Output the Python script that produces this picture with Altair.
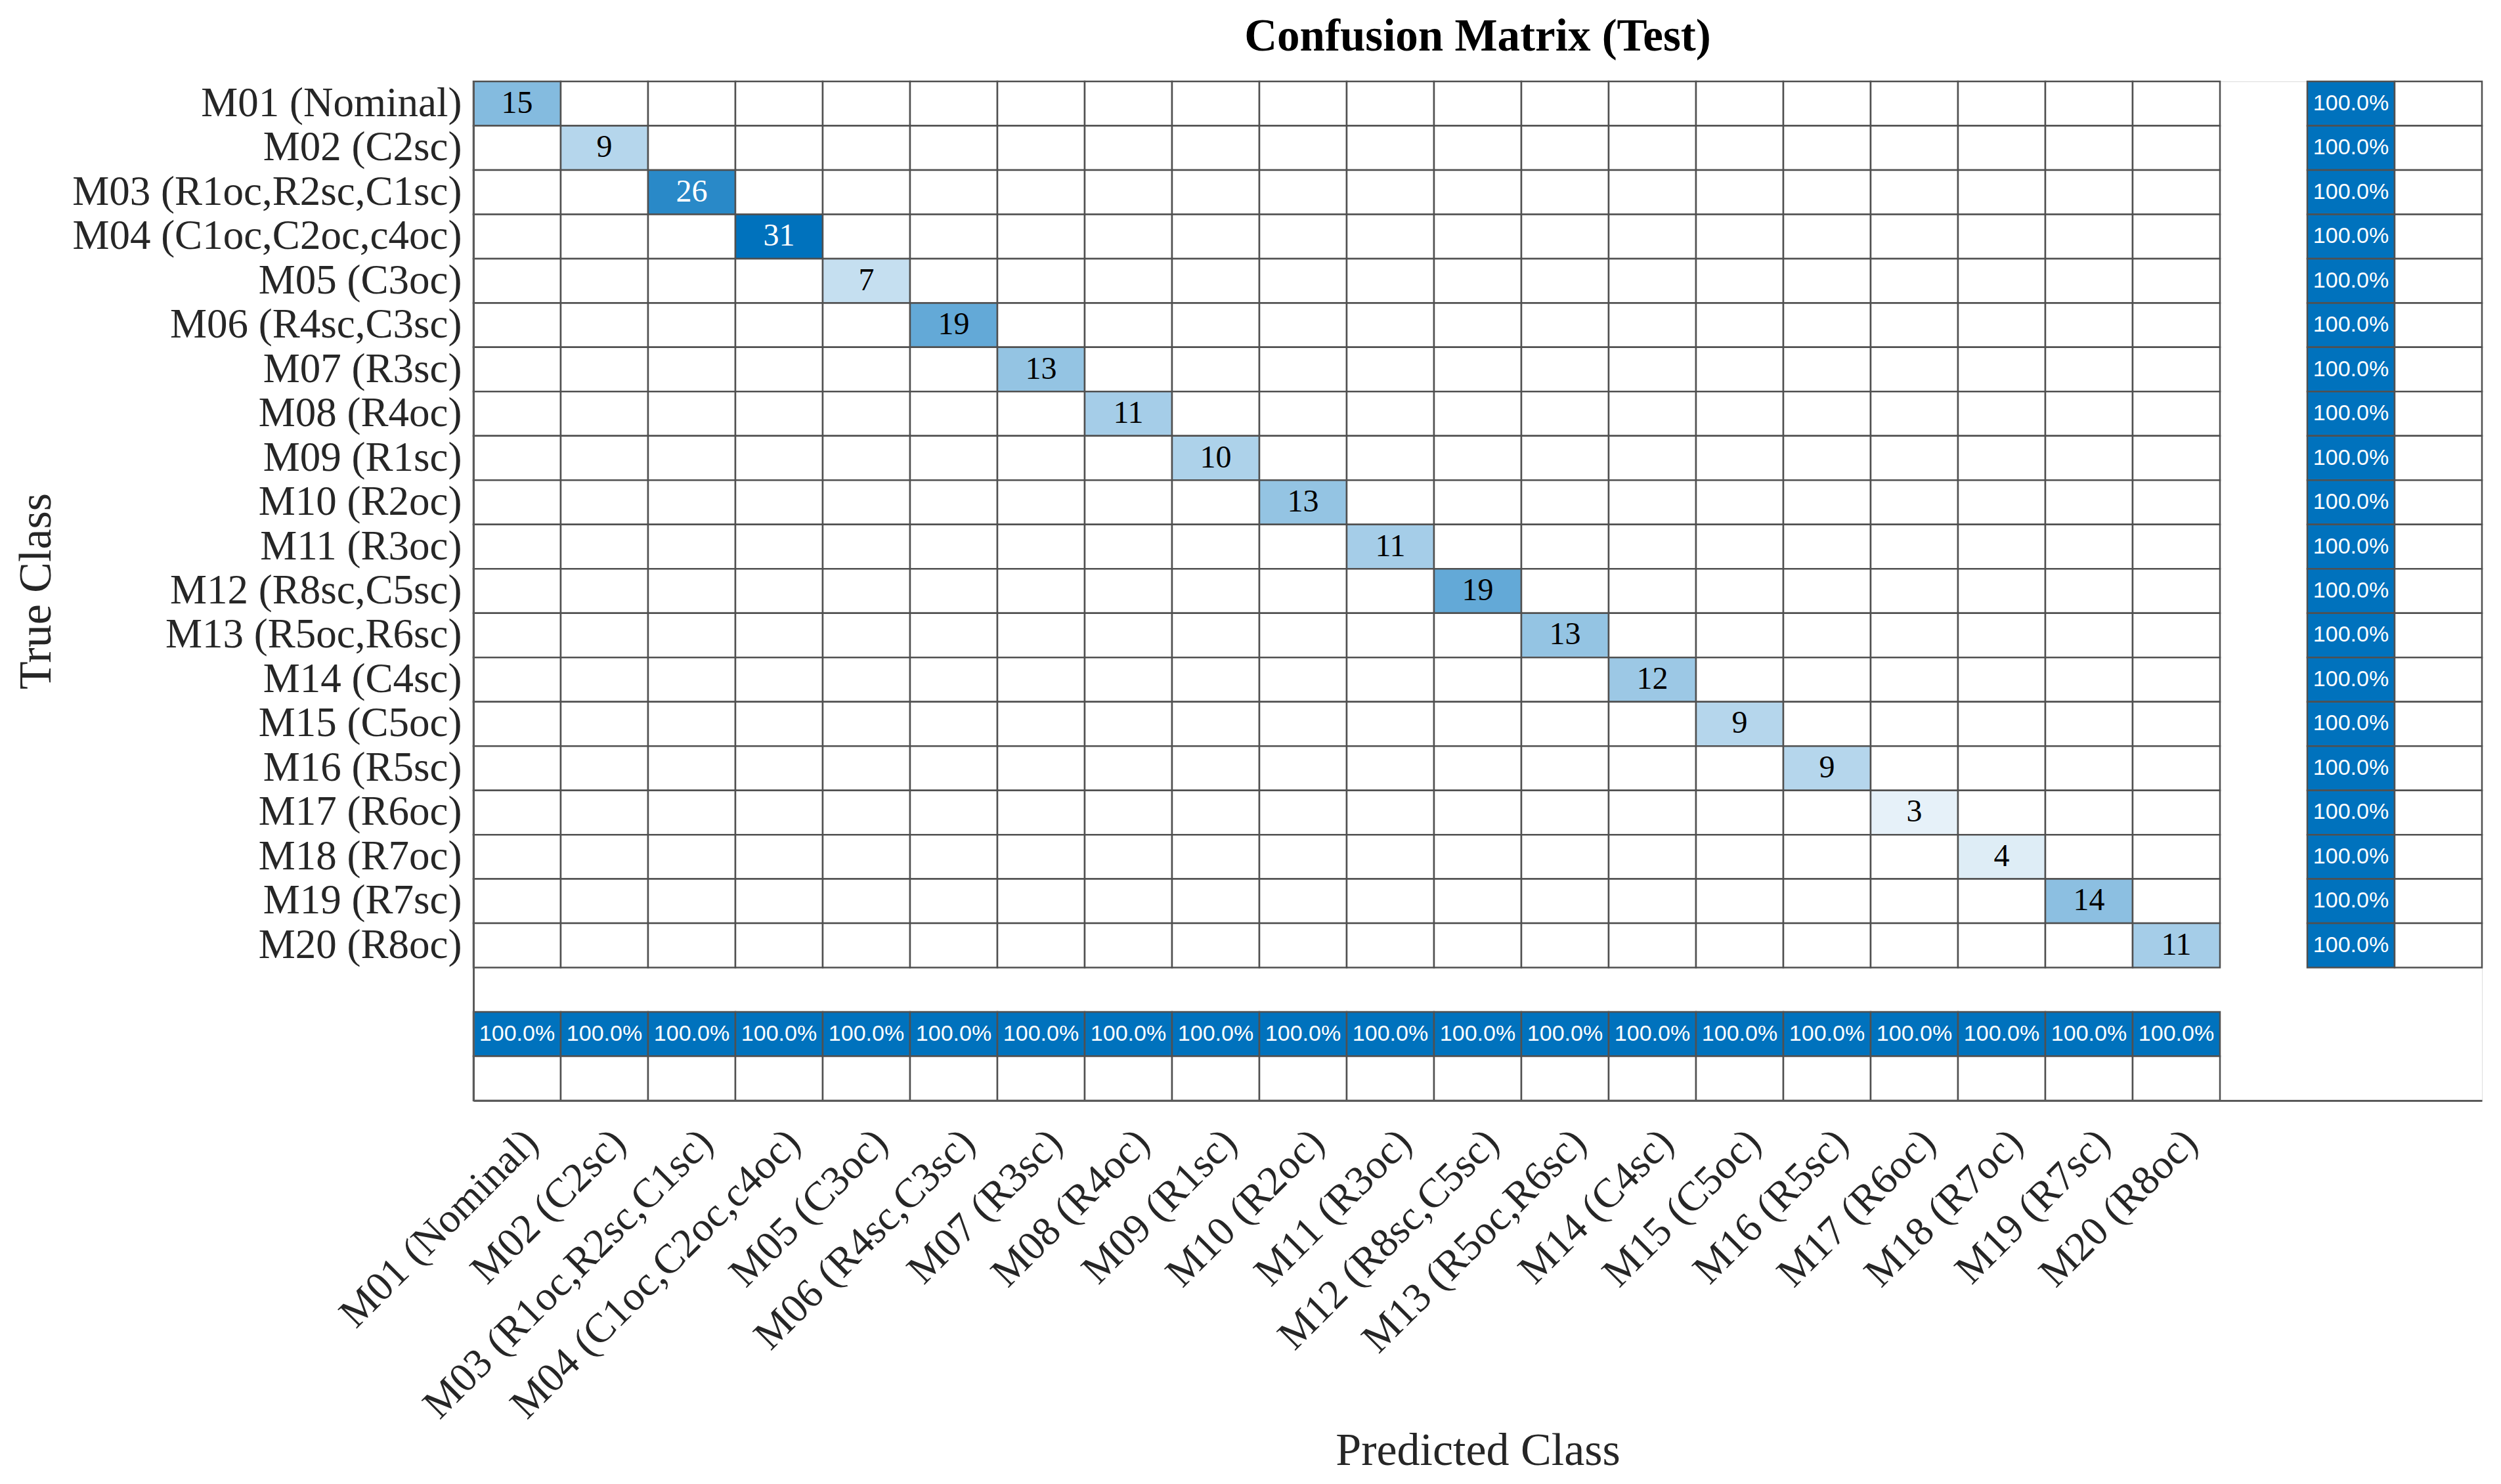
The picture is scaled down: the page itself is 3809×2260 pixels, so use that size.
import altair as alt
import pandas as pd

# ---------------- data ----------------
classes = [
    "M01 (Nominal)", "M02 (C2sc)", "M03 (R1oc,R2sc,C1sc)", "M04 (C1oc,C2oc,c4oc)",
    "M05 (C3oc)", "M06 (R4sc,C3sc)", "M07 (R3sc)", "M08 (R4oc)", "M09 (R1sc)",
    "M10 (R2oc)", "M11 (R3oc)", "M12 (R8sc,C5sc)", "M13 (R5oc,R6sc)", "M14 (C4sc)",
    "M15 (C5oc)", "M16 (R5sc)", "M17 (R6oc)", "M18 (R7oc)", "M19 (R7sc)", "M20 (R8oc)",
]
diag_counts = [15, 9, 26, 31, 7, 19, 13, 11, 10, 13, 11, 19, 13, 12, 9, 9, 3, 4, 14, 11]

# row summary (right): correct %, incorrect %
row_correct = [100.0, 100.0, 100.0, 100.0, 100.0, 100.0, 100.0, 100.0, 100.0, 100.0,
               100.0, 100.0, 100.0, 100.0, 100.0, 100.0, 100.0, 100.0, 100.0, 100.0]
row_wrong = [0.0, 0.0, 0.0, 0.0, 0.0, 0.0, 0.0, 0.0, 0.0, 0.0,
             0.0, 0.0, 0.0, 0.0, 0.0, 0.0, 0.0, 0.0, 0.0, 0.0]
# column summary (bottom): correct %, incorrect %
col_correct = [100.0, 100.0, 100.0, 100.0, 100.0, 100.0, 100.0, 100.0, 100.0, 100.0,
               100.0, 100.0, 100.0, 100.0, 100.0, 100.0, 100.0, 100.0, 100.0, 100.0]
col_wrong = [0.0, 0.0, 0.0, 0.0, 0.0, 0.0, 0.0, 0.0, 0.0, 0.0,
             0.0, 0.0, 0.0, 0.0, 0.0, 0.0, 0.0, 0.0, 0.0, 0.0]

x_extra = ["  ", "RS correct", "RS wrong"]
y_extra = [" ", "CS correct", "CS wrong"]
x_domain = classes + x_extra
y_domain = classes + y_extra

# ---------------- table ----------------
max_count = max(diag_counts)
rows = []
for i, t in enumerate(classes):
    for j, p in enumerate(classes):
        c = diag_counts[i] if i == j else 0
        rows.append({"pred": p, "true": t, "frac": c / max_count,
                     "label": str(c) if c > 0 else "", "kind": "matrix"})
for i, t in enumerate(classes):
    for name, vals in (("RS correct", row_correct), ("RS wrong", row_wrong)):
        v = vals[i]
        rows.append({"pred": name, "true": t, "frac": v / 100.0,
                     "label": f"{v:.1f}%" if v > 0 else "", "kind": "summary"})
for j, p in enumerate(classes):
    for name, vals in (("CS correct", col_correct), ("CS wrong", col_wrong)):
        v = vals[j]
        rows.append({"pred": p, "true": name, "frac": v / 100.0,
                     "label": f"{v:.1f}%" if v > 0 else "", "kind": "summary"})
df = pd.DataFrame(rows)

SERIF = "Liberation Serif"
SANS = "Liberation Sans"

x_enc = alt.X(
    "pred:N",
    scale=alt.Scale(domain=x_domain, paddingInner=0, paddingOuter=0),
    axis=alt.Axis(
        values=classes, title="Predicted Class", titleFont=SERIF, titleFontSize=70,
        titleFontWeight="normal", titleColor="#262626", titleY=533, titleBaseline="middle",
        labelFont=SERIF, labelFontSize=63, labelColor="#262626", labelAngle=315,
        labelAlign="right", labelBaseline="top", labelPadding=32, ticks=False,
        domainColor="#5a5a5a", domainWidth=3, grid=False, labelOverlap=False,
        labelLimit=2000,
    ),
)
y_enc = alt.Y(
    "true:N",
    scale=alt.Scale(domain=y_domain, paddingInner=0, paddingOuter=0),
    axis=alt.Axis(
        values=classes, title="True Class", titleFont=SERIF, titleFontSize=70,
        titleFontWeight="normal", titleColor="#262626", titleX=-666, titleBaseline="middle",
        titleAngle=270,
        labelFont=SERIF, labelFontSize=63, labelColor="#262626", labelPadding=18,
        labelBaseline="middle", ticks=False, domainColor="#5a5a5a", domainWidth=3,
        grid=False, labelOverlap=False, labelLimit=2000,
    ),
)

cells = alt.Chart(df).mark_rect(stroke="#505050", strokeWidth=2.5).encode(
    x=x_enc,
    y=y_enc,
    color=alt.Color("frac:Q", scale=alt.Scale(domain=[0, 1], range=["#ffffff", "#0072BD"],
                                              interpolate="rgb"), legend=None),
)

count_text = alt.Chart(df).transform_filter("datum.kind == 'matrix' && datum.label != ''").mark_text(
    font=SERIF, fontSize=48, baseline="middle", align="center"
).encode(
    x=alt.X("pred:N", scale=alt.Scale(domain=x_domain, paddingInner=0, paddingOuter=0)),
    y=alt.Y("true:N", scale=alt.Scale(domain=y_domain, paddingInner=0, paddingOuter=0)),
    text="label:N",
    color=alt.condition("datum.frac > 0.7", alt.value("#ffffff"), alt.value("#000000")),
)

pct_text = alt.Chart(df).transform_filter("datum.kind == 'summary' && datum.label != ''").mark_text(
    font=SANS, fontSize=34, baseline="middle", align="center"
).encode(
    x=alt.X("pred:N", scale=alt.Scale(domain=x_domain, paddingInner=0, paddingOuter=0)),
    y=alt.Y("true:N", scale=alt.Scale(domain=y_domain, paddingInner=0, paddingOuter=0)),
    text="label:N",
    color=alt.condition("datum.frac > 0.7", alt.value("#ffffff"), alt.value("#000000")),
)

chart = alt.layer(cells, count_text, pct_text).properties(
    width=3059,
    height=1552,
    padding={"left": 713, "top": 116, "right": 15, "bottom": 570},
    autosize=alt.AutoSizeParams(type="none"),
    title=alt.TitleParams(
        "Confusion Matrix (Test)", font=SERIF, fontSize=69, fontWeight="bold",
        anchor="middle", baseline="alphabetic", offset=42, dy=65, color="#000000",
    ),
).configure_view(strokeWidth=0).configure(background="#ffffff")

chart.save("out.html", embed_options={"renderer": "svg", "actions": False})
